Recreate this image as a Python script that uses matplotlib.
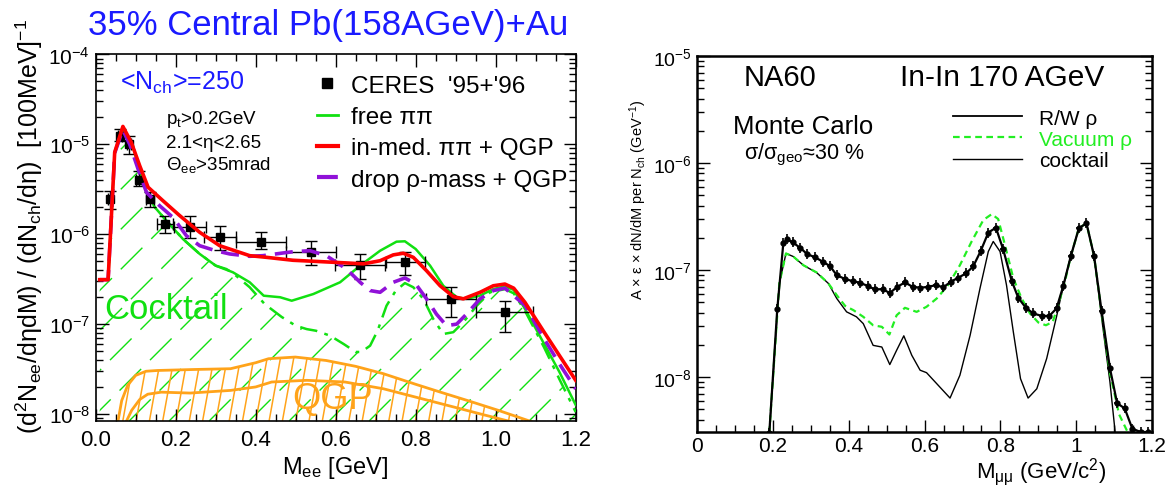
import numpy as np
import matplotlib
matplotlib.use('Agg')
import matplotlib.pyplot as plt
from matplotlib.patches import Polygon
from matplotlib.collections import LineCollection
from matplotlib.lines import Line2D
from matplotlib.ticker import LogLocator, MultipleLocator, FixedLocator, NullFormatter, FuncFormatter

plt.rcParams['font.family'] = ['Liberation Sans', 'DejaVu Sans']
plt.rcParams['mathtext.fontset'] = 'custom'
plt.rcParams['mathtext.rm'] = 'Liberation Sans'
plt.rcParams['mathtext.it'] = 'Liberation Sans:italic'
plt.rcParams['mathtext.default'] = 'regular'

# ---------------- CERES Pb-Au (left) ----------------
ceres_x = [0.035, 0.061, 0.084, 0.108, 0.135, 0.173, 0.235, 0.31, 0.413, 0.537, 0.661, 0.774, 0.888, 1.022]
ceres_y = [2.44e-6, 1.25e-5, 1.0e-5, 4.0e-6, 2.48e-6, 1.31e-6, 1.2e-6, 9.3e-7, 8.1e-7, 6.4e-7, 4.6e-7, 4.9e-7, 1.88e-7, 1.36e-7]
ceres_lo = [1.9e-6, 1.1e-5, 7.8e-6, 3.47e-6, 2.0e-6, 1.03e-6, 9.0e-7, 6.6e-7, 6.8e-7, 4.6e-7, 3.2e-7, 3.5e-7, 1.19e-7, 8.1e-8]
ceres_hi = [3.05e-6, 1.48e-5, 1.25e-5, 5.0e-6, 2.92e-6, 1.61e-6, 1.58e-6, 1.23e-6, 1.07e-6, 8.5e-7, 6.0e-7, 6.4e-7, 2.57e-7, 1.82e-7]
ceres_dx = [0.005, 0.005, 0.005, 0.008, 0.01, 0.02, 0.04, 0.04, 0.0625, 0.0625, 0.062, 0.048, 0.062, 0.072]

red_x = [0.010, 0.031, 0.0475, 0.068, 0.089, 0.110, 0.131, 0.168, 0.21, 0.26, 0.31, 0.385, 0.427, 0.493,
         0.544, 0.627, 0.669, 0.711, 0.744, 0.769, 0.794, 0.827, 0.861, 0.894, 0.919, 0.961, 0.994, 1.023,
         1.045, 1.073, 1.121, 1.159, 1.2]
red_y = [3.12e-7, 3.12e-7, 8.15e-6, 1.58e-5, 1.05e-5, 5.78e-6, 3.33e-6, 2.36e-6, 1.61e-6, 1.05e-6, 7.45e-7,
         5.77e-7, 5.53e-7, 5.13e-7, 5.0e-7, 4.79e-7, 4.68e-7, 5.07e-7, 5.89e-7, 6.14e-7, 5.53e-7, 3.93e-7,
         2.67e-7, 2.02e-7, 1.91e-7, 2.26e-7, 2.67e-7, 2.79e-7, 2.51e-7, 1.75e-7, 8.15e-8, 4.49e-8, 2.37e-8]

drop_x = [0.010, 0.031, 0.0475, 0.0675, 0.085, 0.106, 0.127, 0.16, 0.193, 0.227, 0.26, 0.30, 0.335, 0.385,
          0.418, 0.468, 0.493, 0.536, 0.577, 0.627, 0.661, 0.686, 0.711, 0.744, 0.773, 0.80, 0.827, 0.852,
          0.877, 0.9025, 0.927, 0.961, 0.994, 1.023, 1.073, 1.121, 1.159, 1.2]
drop_y = [3.12e-7, 3.12e-7, 8.0e-6, 1.45e-5, 1.0e-5, 5.3e-6, 2.92e-6, 2.07e-6, 1.54e-6, 9.6e-7, 7.45e-7,
          6.55e-7, 6.03e-7, 5.68e-7, 5.77e-7, 6.18e-7, 6.38e-7, 6.55e-7, 5.75e-7, 4.1e-7, 2.92e-7, 2.36e-7,
          2.26e-7, 2.92e-7, 3.26e-7, 2.79e-7, 1.91e-7, 1.29e-7, 9.6e-8, 1.0e-7, 1.29e-7, 1.91e-7, 2.36e-7,
          2.51e-7, 1.62e-7, 6.87e-8, 3.63e-8, 1.9e-8]

free_x = [0.010, 0.031, 0.0475, 0.068, 0.093, 0.114, 0.127, 0.1475, 0.177, 0.218, 0.26, 0.30, 0.343, 0.385,
          0.42, 0.461, 0.49, 0.544, 0.611, 0.661, 0.711, 0.752, 0.773, 0.80, 0.836, 0.869, 0.9025, 0.927,
          0.96, 0.994, 1.023, 1.045, 1.073, 1.121, 1.159, 1.2]
free_y = [3.12e-7, 3.12e-7, 8.0e-6, 1.45e-5, 9.6e-6, 4.48e-6, 2.92e-6, 2.0e-6, 1.41e-6, 8.85e-7, 6.03e-7,
          4.47e-7, 3.77e-7, 2.92e-7, 2.07e-7, 1.99e-7, 1.82e-7, 2.16e-7, 2.92e-7, 4.47e-7, 6.55e-7, 8.26e-7,
          8.34e-7, 6.84e-7, 4.47e-7, 2.67e-7, 1.99e-7, 1.91e-7, 2.07e-7, 2.45e-7, 2.63e-7, 2.4e-7, 1.48e-7,
          6.03e-8, 2.95e-8, 1.26e-8]

cock_x = [0.010, 0.031, 0.0475, 0.068, 0.093, 0.114, 0.127, 0.1475, 0.177, 0.218, 0.26, 0.30, 0.3265,
          0.343, 0.385, 0.4225, 0.465, 0.50, 0.5275, 0.551, 0.586, 0.62, 0.65, 0.664, 0.686, 0.705, 0.727,
          0.75, 0.773, 0.794, 0.819, 0.844, 0.869, 0.894, 0.919, 0.9525, 0.986, 1.023, 1.045, 1.073, 1.121,
          1.159, 1.2]
cock_y = [3.12e-7, 3.12e-7, 8.0e-6, 1.45e-5, 9.6e-6, 4.48e-6, 2.92e-6, 2.0e-6, 1.41e-6, 8.85e-7, 6.03e-7,
          4.47e-7, 4.1e-7, 3.7e-7, 2.57e-7, 1.67e-7, 1.2e-7, 9.6e-8, 8.8e-8, 8.43e-8, 7.43e-8, 6.0e-8,
          4.9e-8, 4.9e-8, 5.75e-8, 8.5e-8, 1.6e-7, 2.35e-7, 2.86e-7, 2.57e-7, 1.91e-7, 1.14e-7, 7.76e-8,
          8.13e-8, 1.05e-7, 1.6e-7, 2.26e-7, 2.45e-7, 2.2e-7, 1.41e-7, 5.5e-8, 2.45e-8, 1.05e-8]

qgp_hi_x = [0.055, 0.065, 0.08, 0.10, 0.126, 0.155, 0.25, 0.337, 0.40, 0.432, 0.499, 0.576, 0.65, 0.719,
            0.80, 0.862, 0.93, 1.006, 1.097]
qgp_hi_y = [8.0e-9, 1.41e-8, 2.09e-8, 2.69e-8, 2.99e-8, 3.05e-8, 3.13e-8, 3.19e-8, 3.72e-8, 4.12e-8,
            4.3e-8, 3.94e-8, 3.39e-8, 2.81e-8, 2.14e-8, 1.75e-8, 1.41e-8, 1.1e-8, 8.0e-9]
qgp_lo_x = [0.075, 0.09, 0.11, 0.13, 0.164, 0.236, 0.337, 0.40, 0.44, 0.528, 0.623, 0.719, 0.815, 0.91,
            0.97, 1.048]
qgp_lo_y = [8.0e-9, 1.1e-8, 1.45e-8, 1.66e-8, 1.75e-8, 1.71e-8, 1.83e-8, 2.0e-8, 2.27e-8, 2.37e-8,
            2.27e-8, 1.91e-8, 1.48e-8, 1.15e-8, 9.8e-9, 8.0e-9]

# ---------------- NA60 In-In (right) ----------------
rw_x = [0.19, 0.211, 0.227, 0.2375, 0.252, 0.271, 0.29, 0.31, 0.331, 0.35, 0.368, 0.39, 0.41, 0.429, 0.451,
        0.469, 0.489, 0.508, 0.528, 0.548, 0.568, 0.589, 0.61, 0.63, 0.649, 0.669, 0.689, 0.709, 0.728,
        0.748, 0.768, 0.788, 0.807, 0.83, 0.847, 0.867, 0.887, 0.909, 0.929, 0.948, 0.966, 0.986, 1.007,
        1.027, 1.047, 1.067, 1.089, 1.108, 1.128, 1.148, 1.17, 1.19]
rw_y = [3.0e-9, 4.3e-8, 1.78e-7, 1.95e-7, 1.81e-7, 1.62e-7, 1.41e-7, 1.32e-7, 1.2e-7, 1.09e-7, 8.97e-8,
        8.24e-8, 7.89e-8, 7.62e-8, 7.08e-8, 6.59e-8, 6.64e-8, 6.1e-8, 6.98e-8, 7.67e-8, 6.98e-8, 6.84e-8,
        6.98e-8, 7.24e-8, 6.89e-8, 7.78e-8, 8.49e-8, 9.31e-8, 1.08e-7, 1.51e-7, 2.24e-7, 2.49e-7, 1.57e-7,
        7.89e-8, 5.51e-8, 4.44e-8, 3.93e-8, 3.73e-8, 3.73e-8, 4.38e-8, 7.14e-8, 1.36e-7, 2.46e-7, 2.74e-7,
        1.36e-7, 4.13e-8, 1.21e-8, 5.7e-9, 5.1e-9, 3.3e-9, 3.07e-9, 3.07e-9]

vac_x = [0.19, 0.2165, 0.234, 0.253, 0.28, 0.315, 0.346, 0.368, 0.39, 0.412, 0.438, 0.464, 0.487, 0.507,
         0.526, 0.548, 0.579, 0.605, 0.632, 0.662, 0.693, 0.724, 0.755, 0.777, 0.794, 0.812, 0.834, 0.856,
         0.878, 0.90, 0.92, 0.938, 0.9525, 0.97, 0.986, 1.007, 1.027, 1.047, 1.067, 1.089, 1.113, 1.137]
vac_y = [3.0e-9, 7.5e-8, 1.43e-7, 1.34e-7, 1.11e-7, 9.5e-8, 7.5e-8, 5.83e-8, 4.63e-8, 4.22e-8, 3.66e-8,
         3.05e-8, 2.95e-8, 2.5e-8, 3.78e-8, 4.44e-8, 4.07e-8, 4.54e-8, 5.43e-8, 7.24e-8, 1.11e-7, 1.85e-7,
         2.94e-7, 3.33e-7, 3.0e-7, 1.71e-7, 8.36e-8, 5.43e-8, 3.93e-8, 3.24e-8, 3.05e-8, 3.28e-8, 4.7e-8,
         7.78e-8, 1.36e-7, 2.46e-7, 2.74e-7, 1.36e-7, 4.0e-8, 1.1e-8, 4.5e-9, 3.0e-9]

mc_cock_x = [0.19, 0.2165, 0.234, 0.253, 0.28, 0.315, 0.346, 0.368, 0.394, 0.42, 0.438, 0.464, 0.487, 0.508,
             0.526, 0.545, 0.566, 0.588, 0.605, 0.632, 0.667, 0.693, 0.72, 0.746, 0.768, 0.781, 0.799, 0.816,
             0.834, 0.853, 0.873, 0.896, 0.922, 0.948, 0.966, 0.986, 1.007, 1.027, 1.047, 1.067, 1.089, 1.103]
mc_cock_y = [3.0e-9, 7.5e-8, 1.43e-7, 1.34e-7, 1.11e-7, 9.46e-8, 7.5e-8, 5.43e-8, 4.07e-8, 3.66e-8, 3.16e-8,
             1.98e-8, 1.91e-8, 1.31e-8, 1.78e-8, 2.43e-8, 1.6e-8, 1.16e-8, 1.1e-8, 8.67e-9, 6.37e-9, 1.04e-8,
             2.46e-8, 6.73e-8, 1.49e-7, 1.85e-7, 1.49e-7, 7.24e-8, 2.65e-8, 9.66e-9, 6.37e-9, 7.78e-9, 1.49e-8,
             3.66e-8, 7.14e-8, 1.36e-7, 2.46e-7, 2.74e-7, 1.36e-7, 3.6e-8, 9.0e-9, 3.0e-9]
rw_dx = 0.007

x_ticklabels_right = ['0', '0.2', '0.4', '0.6', '0.8', '1', '1.2']

FW, FH = 1172, 489
fig = plt.figure(figsize=(FW / 100, FH / 100), dpi=100)
fig.patch.set_facecolor('white')


def px(x, y):
    return x / FW, 1 - y / FH


def hatch_under(ax, xs, ys, ybot, color, lean, step, lw, ls='-'):
    # hatch lines (in pixel space) clipped to the area under a curve
    verts = list(zip(xs, ys)) + [(xs[-1], ybot), (xs[0], ybot)]
    clip = Polygon(verts, closed=True, fill=False, edgecolor='none')
    ax.add_patch(clip)
    bb = ax.get_position()
    wpx, hpx = bb.width * FW, bb.height * FH
    segs = []
    u = -abs(lean) * hpx - step
    while u < wpx + step:
        segs.append([(u / wpx, 0), ((u + lean * hpx) / wpx, 1)])
        u += step
    lc = LineCollection(segs, colors=color, linewidths=lw, linestyles=ls,
                        transform=ax.transAxes, zorder=1)
    lc.set_clip_path(clip)
    ax.add_collection(lc, autolim=False)


def log_fmt(v, pos):
    return r'$10^{%d}$' % int(round(np.log10(v)))


# ======================
# left panel: CERES
# ======================
ax1 = fig.add_axes([95.7 / FW, 1 - 422 / FH, 480 / FW, 366.6 / FH])
ax1.set_yscale('log')
ax1.set_xlim(0, 1.2)
ax1.set_ylim(8.36e-9, 1e-4)

green = '#11e011'
orange = '#ffa31a'
hatch_under(ax1, cock_x, cock_y, 1e-10, green, 1.0, 40, 1.0, ls=(0, (22, 9)))
hatch_under(ax1, qgp_hi_x, qgp_hi_y, 1e-10, orange, 0.18, 13.3, 1.1)

ax1.plot(qgp_hi_x, qgp_hi_y, color=orange, lw=2.0, zorder=2)
ax1.plot(qgp_lo_x, qgp_lo_y, color=orange, lw=2.0, zorder=2)
ax1.plot(cock_x, cock_y, color=green, lw=1.8, ls=(0, (7, 3, 1.5, 3)), zorder=3)
ax1.plot(free_x, free_y, color=green, lw=1.8, zorder=4)

ceres_y_arr = np.array(ceres_y)
yerr = [ceres_y_arr - np.array(ceres_lo), np.array(ceres_hi) - ceres_y_arr]
ax1.errorbar(ceres_x, ceres_y, yerr=yerr, xerr=ceres_dx, fmt='s', color='black', ms=6,
             elinewidth=1.0, capsize=4, capthick=1.0, zorder=5)
ax1.plot(drop_x, drop_y, color='#9011d8', lw=2.6, ls=(0, (5, 2.5)), zorder=6)
ax1.plot(red_x, red_y, color='#ff0000', lw=2.6, zorder=7)

ax1.xaxis.set_major_locator(MultipleLocator(0.2))
ax1.xaxis.set_minor_locator(MultipleLocator(0.05))
ax1.xaxis.set_major_formatter(FuncFormatter(lambda v, p: '%.1f' % v))
ax1.yaxis.set_major_locator(LogLocator(base=10, numticks=10))
ax1.yaxis.set_minor_locator(LogLocator(base=10, subs=np.arange(2, 10), numticks=20))
ax1.yaxis.set_major_formatter(FuncFormatter(log_fmt))
ax1.yaxis.set_minor_formatter(NullFormatter())
ax1.tick_params(which='both', direction='in', top=True, right=True, width=1.0)
ax1.tick_params(which='major', length=9)
ax1.tick_params(which='minor', length=5)
ax1.tick_params(axis='x', labelsize=16, pad=6)
ax1.tick_params(axis='y', labelsize=15, pad=4)
for s in ax1.spines.values():
    s.set_linewidth(1.2)

fig.text(*px(335, 468), '$M_{ee}$ [GeV]', fontsize=17, va='center', ha='center')
fig.text(*px(29, 226), r'$(d^2N_{ee}/dηdM)\ /\ (dN_{ch}/dη)\ \ [100MeV]^{-1}$', fontsize=18,
         rotation=90, va='center', ha='center')

legend_handles = [
    Line2D([], [], ls='none', marker='s', color='black', ms=7),
    Line2D([], [], color=green, lw=2),
    Line2D([], [], color='#ff0000', lw=3),
    Line2D([], [], color='#9011d8', lw=3, ls=(0, (5, 2.5))),
]
legend_labels = ["CERES  '95+'96", 'free ππ', 'in-med. ππ + QGP', 'drop ρ-mass + QGP']
ax1.legend(legend_handles, legend_labels, loc='upper left', bbox_to_anchor=(0.46, 0.944),
           frameon=False, fontsize=17.5, handlelength=0.9, handletextpad=0.5,
           labelspacing=0.38, borderpad=0, borderaxespad=0)

fig.text(*px(120, 83), '<$N_{ch}$>=250', color='#1a1aff', fontsize=18, va='center', ha='left')
fig.text(*px(166, 120), '$p_t$>0.2GeV', fontsize=13.5, va='center', ha='left')
fig.text(*px(166, 143), '2.1<η<2.65', fontsize=13.5, va='center', ha='left')
fig.text(*px(166, 165), '$Θ_{ee}$>35mrad', fontsize=13.5, va='center', ha='left')
fig.text(*px(104, 310), 'Cocktail', color=green, fontsize=25, va='center', ha='left')
fig.text(*px(292, 400), 'QGP', color=orange, fontsize=26, va='center', ha='left')
fig.text(*px(88, 25), '35% Central Pb(158AGeV)+Au', color='#1a1aff', fontsize=25,
         va='center', ha='left')

# ======================
# right panel: NA60
# ======================
ax2 = fig.add_axes([697.3 / FW, 1 - 433 / FH, 454.7 / FW, 376 / FH])
ax2.set_yscale('log')
ax2.set_xlim(0, 1.2)
ax2.set_ylim(3.07e-9, 1e-5)

ax2.plot(mc_cock_x, mc_cock_y, color='black', lw=1.0, zorder=2)
ax2.plot(vac_x, vac_y, color='#22ee22', lw=1.6, ls=(0, (3, 2)), zorder=3)
ax2.plot(rw_x, rw_y, color='black', lw=1.6, zorder=4)
ax2.errorbar(rw_x, rw_y, xerr=rw_dx, fmt='o', color='black', ms=3.5, elinewidth=1.2, zorder=5)
ax2.plot(rw_x, rw_y, ls='none', marker='|', color='black', ms=7, mew=1.2, zorder=5)

ax2.xaxis.set_major_locator(FixedLocator([0, 0.2, 0.4, 0.6, 0.8, 1.0, 1.2]))
ax2.set_xticklabels(x_ticklabels_right)
ax2.xaxis.set_minor_locator(MultipleLocator(0.05))
ax2.yaxis.set_major_locator(LogLocator(base=10, numticks=10))
ax2.yaxis.set_minor_locator(LogLocator(base=10, subs=np.arange(2, 10), numticks=20))
ax2.yaxis.set_major_formatter(FuncFormatter(log_fmt))
ax2.yaxis.set_minor_formatter(NullFormatter())
ax2.tick_params(which='both', direction='in', top=False, right=True, width=1.0)
ax2.tick_params(which='major', length=9)
ax2.tick_params(which='minor', length=5)
ax2.tick_params(axis='x', labelsize=15, pad=3)
ax2.tick_params(axis='y', labelsize=14, pad=4)
for s in ax2.spines.values():
    s.set_linewidth(1.8)

fig.text(*px(1041, 472), r'$M_{\mu\mu}$ (GeV/c$^2$)', fontsize=16, va='center', ha='center')
fig.text(*px(638, 200), 'A × ε × dN/dM per $N_{ch}$ (GeV$^{-1}$)', fontsize=10.5, rotation=90,
         va='center', ha='center')

fig.text(*px(744, 78), 'NA60', fontsize=21, va='center', ha='left')
fig.text(*px(900, 78), 'In-In 170 AGeV', fontsize=21.5, va='center', ha='left')
fig.text(*px(733, 127), 'Monte Carlo', fontsize=18.5, va='center', ha='left')
fig.text(*px(744, 155), 'σ/$σ_{geo}$≈30 %', fontsize=15.5, va='center', ha='left')

rh = [Line2D([], [], color='black', lw=1.3),
      Line2D([], [], color='#22ee22', lw=1.6, ls=(0, (3, 2))),
      Line2D([], [], color='black', lw=1.0)]
leg2 = ax2.legend(rh, ['R/W ρ', 'Vacuum ρ', 'cocktail'], loc='upper left',
                  bbox_to_anchor=(0.563, 0.86), frameon=False, fontsize=15,
                  handlelength=3.3, handletextpad=0.8, labelspacing=0.1,
                  borderpad=0, borderaxespad=0)
leg2.get_texts()[1].set_color('#22ee22')

fig.savefig('out.png', dpi=100)
